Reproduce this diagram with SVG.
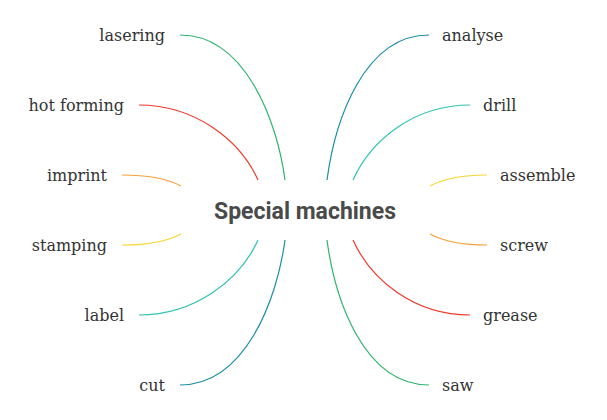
<svg xmlns="http://www.w3.org/2000/svg" width="607" height="420" viewBox="0 0 607 420">
<style>
.lbl{font-family:"DejaVu Serif","Liberation Serif",serif;font-size:16px;fill:#333}
.l{text-anchor:end}
.r{text-anchor:start}
.c{fill:none;stroke-width:1.2}
.center{font-family:Roboto,"Liberation Sans",sans-serif;font-size:23px;font-weight:700;fill:#4a4a4a;text-anchor:middle}
</style>
<rect width="607" height="420" fill="#fff"/>
<g id="connectors">
<path class="c" stroke="#2fb56e" d="M180,35 C245,35 277,120 285,180"/>
<path class="c" stroke="#f0392b" d="M139,105 C195,105 240,140 258,180"/>
<path class="c" stroke="#f5a03a" d="M122,175 C150,175 168,179 181,186"/>
<path class="c" stroke="#f7d730" d="M122,245 C150,245 168,241 181,234"/>
<path class="c" stroke="#2ec4ae" d="M139,315 C195,315 240,280 258,240"/>
<path class="c" stroke="#1b8ea6" d="M180,385 C245,385 277,300 285,240"/>
<path class="c" stroke="#1b8ea6" d="M429,35 C364,35 335,120 327,180"/>
<path class="c" stroke="#2ec4ae" d="M470,105 C414,105 371,140 353,180"/>
<path class="c" stroke="#f7d730" d="M487,175 C459,175 443,179 430,186"/>
<path class="c" stroke="#f5a03a" d="M487,245 C459,245 443,241 430,234"/>
<path class="c" stroke="#f0392b" d="M470,315 C414,315 371,280 353,240"/>
<path class="c" stroke="#2fb56e" d="M429,385 C364,385 335,300 327,240"/>
</g>
<g id="center"><text class="center" x="305" y="219">Special machines</text></g>
<g id="n-lasering"><text class="lbl l" x="165" y="41">lasering</text></g>
<g id="n-hotforming"><text class="lbl l" x="124" y="111">hot forming</text></g>
<g id="n-imprint"><text class="lbl l" x="107" y="181">imprint</text></g>
<g id="n-stamping"><text class="lbl l" x="107" y="251">stamping</text></g>
<g id="n-label"><text class="lbl l" x="124" y="321">label</text></g>
<g id="n-cut"><text class="lbl l" x="165" y="391">cut</text></g>
<g id="n-analyse"><text class="lbl r" x="442" y="41">analyse</text></g>
<g id="n-drill"><text class="lbl r" x="483" y="111">drill</text></g>
<g id="n-assemble"><text class="lbl r" x="500" y="181">assemble</text></g>
<g id="n-screw"><text class="lbl r" x="500" y="251">screw</text></g>
<g id="n-grease"><text class="lbl r" x="483" y="321">grease</text></g>
<g id="n-saw"><text class="lbl r" x="442" y="391">saw</text></g>
</svg>
